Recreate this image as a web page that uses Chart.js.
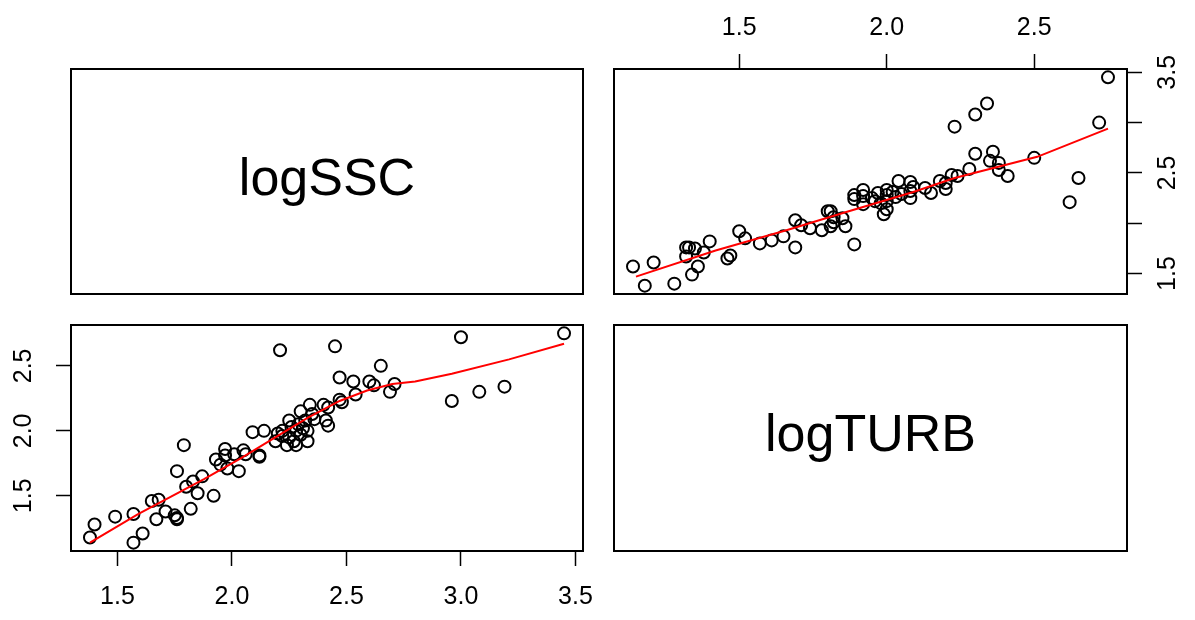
<!DOCTYPE html>
<html>
<head>
<meta charset="utf-8">
<script src="https://cdn.jsdelivr.net/npm/chart.js@4.4.1/dist/chart.umd.min.js"></script>
<style>
  body { margin: 0; background: #fff; width: 1195px; height: 620px; position: relative; overflow: hidden; }
  canvas { position: absolute; }
  .diag {
    position: absolute; box-sizing: border-box; border: 2px solid #000;
    display: flex; align-items: center; justify-content: center;
    font-family: "Liberation Sans", Arial, sans-serif; font-size: 52px; color: #000;
  }
  .diag span { position: relative; top: -5px; }
</style>
</head>
<body>
<div class="diag" style="left:70px;top:68px;width:514px;height:227px"><span>logSSC</span></div>
<div class="diag" style="left:613px;top:324px;width:515px;height:228px"><span>logTURB</span></div>
<canvas id="lowerPanel" width="620" height="340" style="left:0;top:280px"></canvas>
<canvas id="upperPanel" width="615" height="340" style="left:580px;top:0"></canvas>
<script>
// paired observations (logSSC, logTURB)
const logSSC = [
  1.38,1.40,1.49,1.57,1.57,1.61,1.65,1.68,1.67,1.71,
  1.75,1.76,1.76,1.82,1.76,1.79,1.80,1.83,1.85,1.87,
  1.92,1.93,1.95,1.97,1.97,1.98,2.01,2.03,2.05,2.06,2.09,
  2.21,2.45,2.65,2.47,2.53,2.60,2.62,2.71,2.69,2.54,
  2.47,2.48,2.40,2.42,2.41,2.42,2.34,2.30,2.35,2.36,
  2.32,2.29,2.25,2.28,2.33,2.30,2.22,2.22,2.25,2.24,
  2.28,2.33,2.19,2.14,2.12,2.12,
  3.00,3.45,2.96,3.08,3.19,
  2.27,2.31,2.20,2.26
];
const logTURB = [
  1.18,1.28,1.34,1.36,1.14,1.21,1.46,1.47,1.32,1.38,
  1.35,1.32,1.33,1.40,1.69,1.89,1.57,1.61,1.52,1.65,
  1.50,1.78,1.74,1.86,1.81,1.71,1.82,1.69,1.85,1.82,1.99,
  2.62,2.65,2.50,2.41,2.38,2.38,2.35,2.36,2.30,2.28,
  2.24,2.22,2.20,2.18,2.08,2.04,2.20,2.15,2.13,2.09,
  2.08,2.05,2.08,2.00,2.00,1.97,2.00,1.96,1.95,1.89,
  1.89,1.92,1.92,2.00,1.80,1.81,
  2.72,2.75,2.23,2.30,2.34,
  1.92,2.02,1.98,2.03
];

// smoother lines
const smoothTurbOnSsc = [
  [1.38,1.14],[1.59,1.36],[1.88,1.63],[2.04,1.79],[2.18,1.94],[2.33,2.10],[2.47,2.23],
  [2.59,2.31],[2.70,2.36],[2.80,2.38],[2.96,2.44],[3.21,2.55],[3.45,2.67]
];
const smoothSscOnTurb = [
  [1.15,1.47],[1.42,1.73],[1.66,1.93],[1.86,2.11],[2.09,2.31],[2.23,2.45],[2.51,2.66],[2.75,2.94]
];

// tick values and labels
const sscTicks = [1.5, 2.0, 2.5, 3.0, 3.5];
const sscTickLabels = ['1.5', '2.0', '2.5', '3.0', '3.5'];
const sscSideLabels = ['1.5', '', '2.5', '', '3.5'];
const turbTicks = [1.5, 2.0, 2.5];
const turbTickLabels = ['1.5', '2.0', '2.5'];

// R style 4% padded ranges
function padRange(v) {
  const lo = Math.min(...v), hi = Math.max(...v), d = (hi - lo) * 0.04;
  return [lo - d, hi + d];
}
const sscRange = padRange(logSSC);
const turbRange = padRange(logTURB);

const font = { family: '"Liberation Sans", Arial, sans-serif', size: 25 };

const boxPlugin = {
  id: 'box',
  afterDraw(chart) {
    const a = chart.chartArea, ctx = chart.ctx;
    ctx.save();
    ctx.strokeStyle = '#000';
    ctx.lineWidth = 2;
    ctx.strokeRect(a.left, a.top, a.right - a.left, a.bottom - a.top);
    ctx.restore();
  }
};

function axis(range, ticks, labels, position, size, pad, rotated) {
  const horizontal = position === 'top' || position === 'bottom';
  return {
    type: 'linear',
    position,
    min: range[0],
    max: range[1],
    afterBuildTicks: s => { s.ticks = ticks.map(v => ({ value: v })); },
    afterFit: s => { if (horizontal) s.height = size; else s.width = size; },
    border: { display: false },
    grid: { drawOnChartArea: false, drawTicks: true, tickLength: 15, tickColor: '#000', tickWidth: 1.5 },
    ticks: {
      font, color: '#000', padding: pad, autoSkip: false,
      minRotation: rotated ? 90 : 0, maxRotation: rotated ? 90 : 0,
      crossAlign: rotated ? 'center' : 'near',
      callback: (v, i) => labels[i]
    }
  };
}

const points = (xs, ys) => xs.map((x, i) => ({ x, y: ys[i] }));
const pairs = arr => arr.map(p => ({ x: p[0], y: p[1] }));

function panel(id, pts, smooth, scales, padding) {
  return new Chart(document.getElementById(id), {
    type: 'scatter',
    data: {
      datasets: [
        { type: 'line', data: smooth, borderColor: '#f00', borderWidth: 2, pointRadius: 0, tension: 0, fill: false },
        { data: pts, pointStyle: 'circle', pointRadius: 6, borderWidth: 2, borderColor: '#000', backgroundColor: 'rgba(0,0,0,0)' }
      ]
    },
    options: {
      responsive: false,
      animation: false,
      layout: { padding },
      plugins: { legend: { display: false }, tooltip: { enabled: false } },
      scales
    },
    plugins: [boxPlugin]
  });
}

// lower left: x = logSSC, y = logTURB
panel('lowerPanel', points(logSSC, logTURB), pairs(smoothTurbOnSsc), {
  x: axis(sscRange, sscTicks, sscTickLabels, 'bottom', 69, 16, false),
  y: axis(turbRange, turbTicks, turbTickLabels, 'left', 71, 15, true)
}, { left: 0, top: 45, right: 37, bottom: 0 });

// upper right: x = logTURB, y = logSSC
panel('upperPanel', points(logTURB, logSSC), pairs(smoothSscOnTurb), {
  x: axis(turbRange, turbTicks, turbTickLabels, 'top', 69, 11, false),
  y: axis(sscRange, sscTicks, sscSideLabels, 'right', 68, 9, true)
}, { left: 34, top: 0, right: 0, bottom: 46 });
</script>
</body>
</html>
